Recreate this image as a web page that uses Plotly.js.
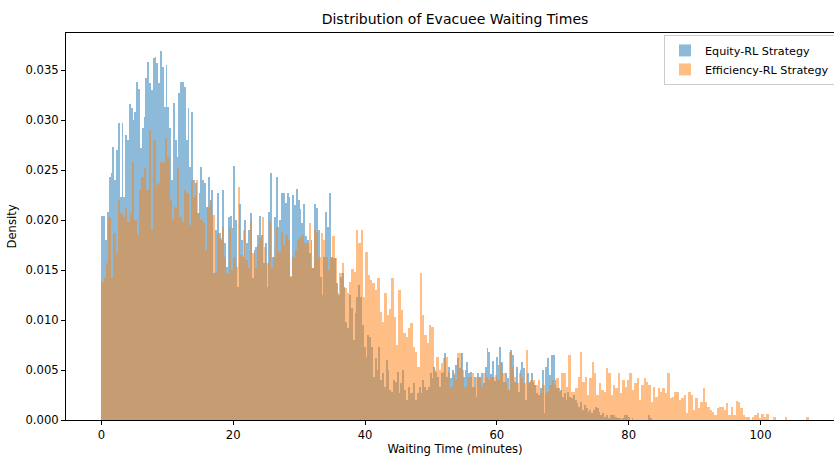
<!DOCTYPE html>
<html>
<head>
<meta charset="utf-8">
<script src="https://cdn.plot.ly/plotly-3.0.1.min.js"></script>
<style>
html,body{margin:0;padding:0;overflow:hidden;background:#fff;}
#chart{width:844px;height:456px;}
</style>
</head>
<body>
<div id="chart"></div>
<script>
// Histogram ranges (minutes) and densities (per mille, i.e. density x 1000), 300 bins each
const equityRange = [0, 83.5];
const efficiencyRange = [0, 107.3];

const equityDensityPermille = [
 20.4,20.4,18.0,20.8,24.3,24.7,27.3,24.0,27.0,29.7,
 22.3,29.7,22.3,28.5,28.0,31.6,31.2,30.0,30.8,33.8,
 33.1,27.2,29.2,30.3,34.2,35.8,33.7,33.0,36.2,36.3,
 35.7,33.7,36.9,35.3,31.3,35.5,31.3,29.2,24.0,31.7,
 28.0,26.3,32.7,33.8,33.8,33.3,28.0,31.2,25.3,30.8,
 24.0,23.7,20.7,22.7,25.3,24.0,23.7,21.3,24.3,22.0,
 23.0,14.7,19.0,22.7,18.7,18.0,23.0,17.7,15.3,20.3,
 20.4,19.2,25.4,20.0,13.3,21.6,18.0,16.3,20.0,17.7,
 19.0,20.7,14.2,17.0,17.3,18.5,20.4,18.5,15.7,17.7,
 13.3,20.8,24.7,16.3,20.3,24.3,19.3,20.0,22.7,22.7,
 21.7,22.7,22.3,14.3,22.5,21.5,23.1,22.0,21.1,19.7,
 21.6,18.4,18.0,16.7,18.0,15.2,21.6,21.2,19.0,14.3,
 12.5,16.3,20.8,19.3,22.7,16.3,16.2,16.2,13.7,12.5,
 14.3,14.7,13.3,9.8,9.2,12.5,11.2,8.0,10.7,12.3,
 13.5,12.3,9.5,7.3,6.3,8.5,8.3,7.3,4.3,6.2,
 5.0,7.3,4.0,4.7,3.3,6.0,5.0,3.0,2.8,4.0,
 3.8,4.8,2.7,3.7,5.0,3.0,2.0,3.3,2.7,2.7,
 3.7,2.0,2.7,3.3,2.7,4.0,3.3,3.0,3.3,4.7,
 4.2,5.3,4.8,4.3,3.3,4.7,4.8,6.7,4.3,5.3,
 4.2,5.0,4.5,5.5,6.2,5.2,6.7,4.3,5.0,5.8,
 4.7,4.8,3.3,4.3,2.3,4.7,4.3,4.7,3.7,5.3,
 7.2,6.8,4.6,5.9,3.9,6.3,
 5.5,7.3,5.8,3.8,4.7,4.2,3.0,7.0,6.5,3.8,
 5.3,2.8,5.0,5.8,5.2,2.0,4.7,3.8,4.7,3.8,
 3.5,2.7,2.5,3.2,5.0,0.7,5.3,6.2,4.5,6.5,
 6.5,4.0,3.2,3.2,3.0,2.3,2.7,2.0,2.8,2.3,
 2.2,2.5,2.0,1.7,1.3,1.8,1.0,1.5,1.2,0.8,
 1.0,0.7,1.0,1.3,1.2,0.8,0.5,0.7,0.3,0.5,
 0.2,0.5,0.5,0.5,0.3,0.2,0.2,0,0.2,0.5,
 0.5,0.3,0,0.2,0,0,0,0,0,0,
 0,0,0.5,0.2
];

const efficiencyDensityPermille = [
 13.8,14.2,15.7,20.3,14.2,18.7,16.7,22.0,20.7,20.3,
 21.2,19.8,20.7,25.8,20.0,18.5,23.0,24.3,25.2,23.0,
 29.0,19.0,28.0,23.5,23.7,25.8,25.7,28.2,26.3,22.0,
 20.0,21.3,25.2,20.3,19.8,23.0,22.7,19.5,24.0,22.3,
 24.0,20.7,20.0,19.7,17.0,21.3,22.0,20.5,14.7,18.7,
 18.2,19.3,16.3,14.7,19.3,
 15.0,16.3,15.3,23.3,16.5,19.0,16.0,15.2,19.9,16.7,
 15.2,17.5,18.2,20.3,17.3,15.7,19.9,15.2,16.3,19.3,
 16.8,18.8,17.5,18.5,18.0,14.4,16.3,17.0,18.0,18.3,
 18.5,17.7,17.7,19.7,15.2,19.0,18.8,16.3,18.7,18.0,
 16.3,15.0,16.2,18.4,16.2,12.7,14.7,15.7,13.2,12.7,
 13.8,15.1,14.8,19.0,17.7,
 19.0,12.3,16.8,14.5,14.0,13.7,13.0,14.2,10.8,9.8,
 12.7,10.5,11.1,14.2,10.3,7.5,13.0,11.0,8.7,8.3,
 9.2,9.7,7.3,6.8,5.3,14.7,10.5,8.5,7.7,9.5,
 9.3,5.0,6.3,5.0,5.7,6.2,6.3,4.8,3.3,4.7,
 4.0,6.7,6.7,5.0,3.3,4.3,4.3,4.7,3.3,4.3,
 4.3,3.3,4.7,4.3,4.0,4.3,4.3,4.5,
 4.0,5.7,4.7,3.8,3.0,6.8,5.3,4.3,3.7,
 4.7,4.2,3.7,7.0,3.7,4.0,4.0,3.5,
 4.0,2.7,3.5,2.7,2.8,3.5,4.0,3.5,
 4.2,2.8,4.7,4.7,3.3,6.5,2.8,2.8,3.2,
 4.3,6.8,3.8,4.3,2.5,4.2,5.8,4.7,
 2.5,3.7,3.0,2.8,5.2,4.7,2.5,3.5,
 3.2,4.7,2.7,4.0,3.3,4.0,4.7,3.0,3.7,
 4.2,2.0,3.5,4.2,3.8,3.5,1.8,3.3,
 2.3,3.2,2.8,3.2,2.7,4.7,2.2,2.3,
 2.8,2.8,2.0,2.2,2.5,0.7,2.8,2.5,1.0,
 2.2,1.2,1.8,3.2,1.8,1.3,1.0,0.8,0.5,1.2,
 1.3,1.3,1.0,1.7,0.5,1.3,0.5,1.9,1.8,1.2,
 0.5,0.3,0.3,0,0.3,0.5,0.7,0.2,0.6,0.3,
 0.6,0,0,0.3,0,0,0,0,0.3,0,
 0,0,0,0,0,0,0,0.3
];

const seriesNames = ['Equity-RL Strategy', 'Efficiency-RL Strategy'];
const xTickVals = [0, 20, 40, 60, 80, 100];
const yTickVals = [0, 0.005, 0.010, 0.015, 0.020, 0.025, 0.030, 0.035];

function histTrace(range, permille, name, color) {
  const n = permille.length;
  const w = (range[1] - range[0]) / n;
  const x = permille.map((_, i) => range[0] + (i + 0.5) * w);
  const y = permille.map(v => v / 1000);
  return {
    type: 'bar', x: x, y: y, width: w, name: name,
    marker: {color: color, line: {width: 0}},
    opacity: 0.5, hoverinfo: 'skip'
  };
}

const traces = [
  histTrace(equityRange, equityDensityPermille, seriesNames[0], '#1f77b4'),
  histTrace(efficiencyRange, efficiencyDensityPermille, seriesNames[1], '#ff7f0e')
];

const font = {family: 'DejaVu Sans, sans-serif', size: 11.6, color: '#000'};
const legendFont = {family: 'DejaVu Sans, sans-serif', size: 11.2, color: '#000'};

const layout = {
  width: 844, height: 456,
  margin: {l: 66, r: 0, t: 33, b: 36, pad: 0},
  paper_bgcolor: '#fff', plot_bgcolor: '#fff',
  font: font,
  barmode: 'overlay', bargap: 0,
  showlegend: true,
  title: {text: 'Distribution of Evacuee Waiting Times', font: {family: font.family, size: 14, color: '#000'},
          x: 0.5, xref: 'paper', xanchor: 'center', y: 1 - 19/456, yref: 'container', yanchor: 'middle'},
  xaxis: {
    range: [-5.37, 112.67], tickvals: xTickVals, ticktext: xTickVals.map(String),
    showline: true, linecolor: '#000', linewidth: 1, mirror: true,
    ticks: 'outside', ticklen: 4, tickwidth: 1, tickcolor: '#000',
    showgrid: false, zeroline: false,
    title: {text: 'Waiting Time (minutes)', font: font, standoff: 4},
    automargin: false
  },
  yaxis: {
    range: [0, 0.0387], tickvals: yTickVals, ticktext: yTickVals.map(v => v.toFixed(3)),
    showline: true, linecolor: '#000', linewidth: 1, mirror: true,
    ticks: 'outside', ticklen: 4, tickwidth: 1, tickcolor: '#000',
    showgrid: false, zeroline: false,
    title: {text: 'Density', font: font, standoff: 6},
    automargin: false
  },
  legend: {
    x: (664 - 66) / 778, xanchor: 'left', y: 0.995, yanchor: 'top',
    bgcolor: 'rgba(255,255,255,0.8)', bordercolor: '#cccccc', borderwidth: 1,
    font: legendFont, traceorder: 'normal', tracegroupgap: 0, itemwidth: 30
  }
};

Plotly.newPlot('chart', traces, layout, {displayModeBar: false, staticPlot: true});
</script>
</body>
</html>
